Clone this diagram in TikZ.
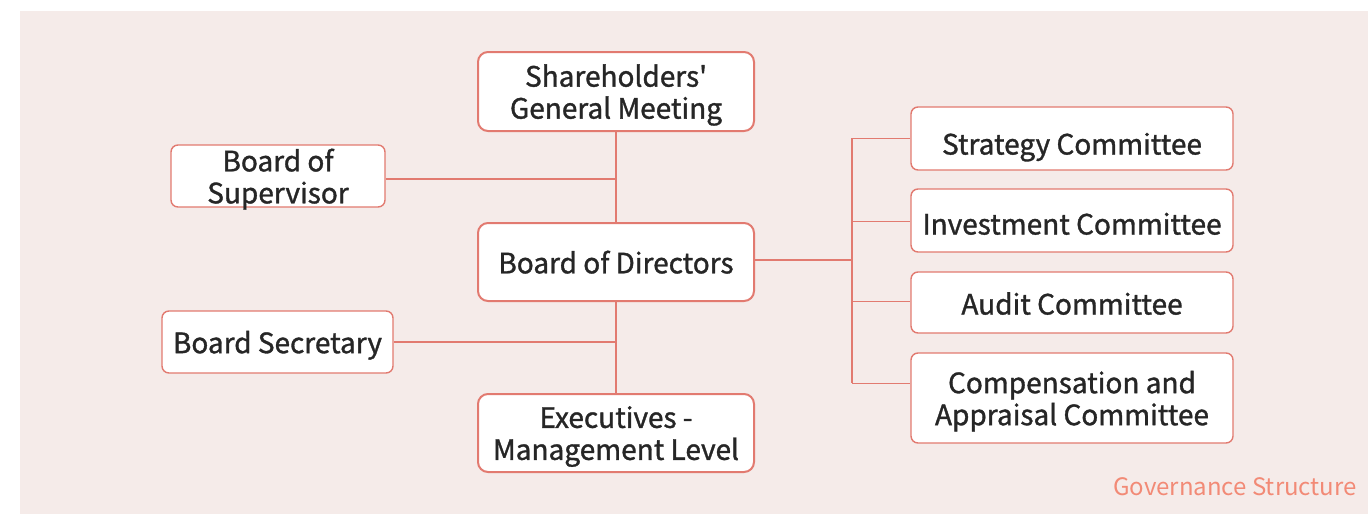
\documentclass[tikz,border=0pt]{standalone}
\usepackage{fontspec}
\setmainfont{Noto Sans CJK SC}
\newfontfamily\medfont{Noto Sans CJK SC}[FakeBold=1.2]
\usetikzlibrary{positioning,calc}
\definecolor{bgc}{RGB}{245,235,233}
\definecolor{edgec}{RGB}{226,122,112}
\definecolor{txtc}{RGB}{38,38,38}
\definecolor{capc}{RGB}{242,138,118}
\tikzset{
  box/.style={draw=edgec, fill=white, rounded corners=10pt, line width=2pt, align=center, text=txtc, font=\medfont\fontsize{28}{32}\selectfont, inner sep=0pt, text depth=0pt},
  sbox/.style={box, rounded corners=7pt, line width=1.4pt},
  trunk/.style={draw=edgec, line width=2.4pt},
  branch/.style={draw=edgec, line width=1.5pt},
}
\begin{document}
\begin{tikzpicture}[x=1pt,y=-1pt]
\useasboundingbox (0,0) rectangle (1368,514);
\fill[bgc] (20,11) rectangle (1368,514);
% middle column
\node[box, minimum width=276pt, minimum height=79pt] (sh) at (616,91.5) {Shareholders\textquotesingle\\General Meeting};
\node[box, minimum width=276pt, minimum height=78pt] (dir) at (616,262) {Board of Directors};
\node[box, minimum width=276pt, minimum height=78pt] (ex) at (616,433) {Executives -\\Management Level};
% left
\node[sbox, minimum width=214pt, minimum height=62pt] (sup) at (278,176) {Board of\\Supervisor};
\node[sbox, minimum width=231pt, minimum height=62pt] (sec) at (277.5,342) {Board Secretary};
% right committees
\node[sbox, minimum width=322pt, minimum height=63pt, text height=32pt] (c1) at (1072,138.5) {Strategy Committee};
\node[sbox, minimum width=322pt, minimum height=63pt, text height=28pt] (c2) at (1072,220.5) {Investment Committee};
\node[sbox, minimum width=322pt, minimum height=61pt, text height=24pt] (c3) at (1072,302.5) {Audit Committee};
\node[sbox, minimum width=322pt, minimum height=90pt] (c4) at (1072,398) {Compensation and\\Appraisal Committee};
% connectors
\coordinate (bus) at (852,260);
\coordinate (j0) at ([yshift=2pt]dir.east);
\coordinate (js) at ([yshift=-3pt]sup.east);
\coordinate (k1) at ([yshift=-32pt]c1.north west);
\coordinate (k2) at ([yshift=-33pt]c2.north west);
\coordinate (k3) at ([yshift=-30pt]c3.north west);
\coordinate (k4) at ([yshift=-31pt]c4.north west);
\path[trunk] (sh.south) -- (dir.north);
\path[trunk] (dir.south) -- (ex.north);
\path[branch] (js) -- (js -| sh.south);
\path[branch] (sec.east) -- (sec.east -| dir.south);
\path[branch] (j0) -- (j0 -| bus);
\path[branch] (bus |- k1) -- (bus |- k4);
\path[branch] (bus |- k1) -- (k1);
\path[branch] (bus |- k2) -- (k2);
\path[branch] (bus |- k3) -- (k3);
\path[branch] (bus |- k4) -- (k4);
\node[anchor=base east, text=capc, font=\fontsize{24}{30}\selectfont, inner sep=0pt] (cap) at (1357,495) {Governance Structure};
\end{tikzpicture}
\end{document}
